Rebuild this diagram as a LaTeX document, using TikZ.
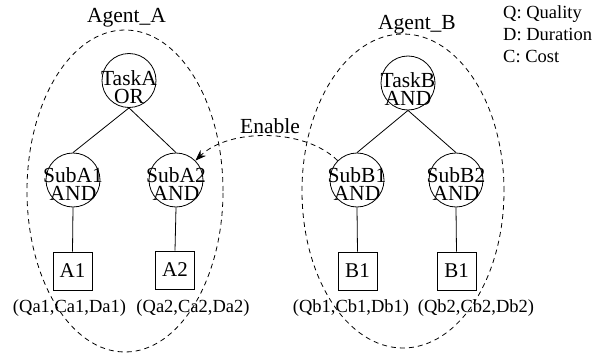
\documentclass[tikz,border=0pt]{standalone}
\usepackage{fontspec}
\setmainfont{Liberation Serif}
\usetikzlibrary{arrows.meta,shapes.geometric}
% two centred lines, zero-size box; #3 = drop of first baseline below centre
\newcommand\cirtext[3]{%
  \makebox[0pt]{\raisebox{-#3pt}[0pt][0pt]{#1}}%
  \makebox[0pt]{\raisebox{\dimexpr-#3pt-18pt\relax}[0pt][0pt]{#2}}}
\begin{document}
\begin{tikzpicture}[x=1pt,y=-1pt,
  agent/.style={draw, ellipse, dash pattern=on 5pt off 4pt, line width=0.8pt, inner sep=0pt},
  task/.style={draw, circle, minimum size=54pt, inner sep=0pt, line width=0.8pt,
    font=\fontsize{21.5}{18}\selectfont},
  act/.style={draw, minimum width=39pt, minimum height=38pt, inner sep=0pt, line width=0.8pt, font=\fontsize{21}{21}\selectfont},
  lbl/.style={font=\fontsize{18.5}{18.5}\selectfont, anchor=base, inner sep=0pt},
  big/.style={font=\fontsize{21.5}{21.5}\selectfont, anchor=base, inner sep=0pt},
  legend/.style={font=\fontsize{18.5}{18.5}\selectfont, anchor=base west, inner sep=0pt},
  link/.style={line width=0.8pt},
  enable/.style={line width=0.8pt, dash pattern=on 5pt off 4pt, -{Stealth[length=11pt,width=8pt]}}]
\useasboundingbox (0,0) rectangle (603,356);

% agents
\node[agent, minimum width=196pt, minimum height=322pt] (AgentA) at (125,191) {};
\node[agent, minimum width=202pt, minimum height=314pt] (AgentB) at (403,191) {};
\node[big] (AgentAt) at (126.5,22) {Agent\_A};
\node[big] (AgentBt) at (417,29) {Agent\_B};

% tasks
\node[task] (TaskA) at (129,80.5) {\cirtext{TaskA}{OR}{5}};
\node[task] (TaskB) at (408,83) {\cirtext{TaskB}{AND}{4.5}};

\node[task] (SubA1) at (73,180) {\cirtext{SubA1}{AND}{2}};
\node[task] (SubA2) at (176,180) {\cirtext{SubA2}{AND}{2}};
\node[task] (SubB1) at (357,180) {\cirtext{SubB1}{AND}{2}};
\node[task] (SubB2) at (456,180) {\cirtext{SubB2}{AND}{2}};

% methods
\node[act] (A1) at (72.5,271) {A1};
\node[act] (A2) at (175,270) {A2};
\node[act] (B1) at (357.5,271) {B1};
\node[act] (B2) at (456.5,271) {B1};

% attributes
\node[lbl] (QA1) at (69.5,312) {(Qa1,Ca1,Da1)};
\node[lbl] (QA2) at (193,312) {(Qa2,Ca2,Da2)};
\node[lbl] (QB1) at (351,312) {(Qb1,Cb1,Db1)};
\node[lbl] (QB2) at (476,312) {(Qb2,Cb2,Db2)};

% legend
\node[legend] (LQ) at (503,18) {Q: Quality};
\node[legend] (LD) at (503,40) {D: Duration};
\node[legend] (LC) at (503,62) {C: Cost};

% tree edges
\draw[link] (TaskA.south) -- (SubA1.north);
\draw[link] (TaskA.south) -- (SubA2.north);
\draw[link] (TaskB.south) -- (SubB1.north);
\draw[link] (TaskB.south) -- (SubB2.north);
\draw[link] (SubA1.south) -- (A1.north);
\draw[link] (SubA2.south) -- (A2.north);
\draw[link] (SubB1.south) -- (B1.north);
\draw[link] (SubB2.south) -- (B2.north);

% enable relation
\draw[enable] (SubB1.135) .. controls (305,128) and (229,128) .. (SubA2.45);
\node[big] (Enable) at (270,133) {Enable};
\end{tikzpicture}
\end{document}
